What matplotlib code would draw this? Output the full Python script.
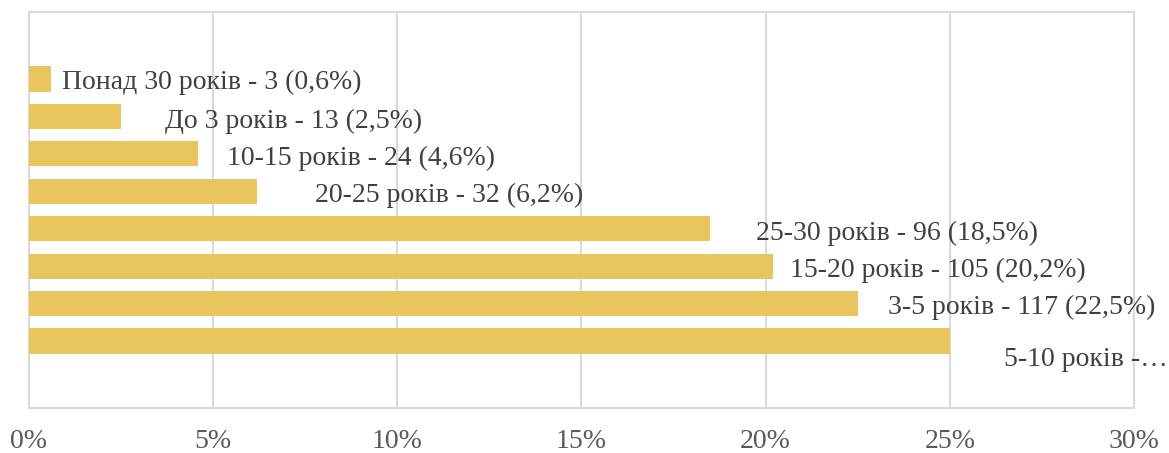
import matplotlib
matplotlib.use('Agg')
import matplotlib.pyplot as plt
from matplotlib.ticker import FuncFormatter

# data, bottom bar first
categories = ['5-10 років', '3-5 років', '15-20 років', '25-30 років',
              '20-25 років', '10-15 років', 'До 3 років', 'Понад 30 років']
counts = [130, 117, 105, 96, 32, 24, 13, 3]
percents = [25.0, 22.5, 20.2, 18.5, 6.2, 4.6, 2.5, 0.6]
labels = ['5-10 років -…', '3-5 років - 117 (22,5%)', '15-20 років - 105 (20,2%)',
          '25-30 років - 96 (18,5%)', '20-25 років - 32 (6,2%)',
          '10-15 років - 24 (4,6%)', 'До 3 років - 13 (2,5%)',
          'Понад 30 років - 3 (0,6%)']

# hand-placed label offsets (pixels), as in the original Excel chart
label_dx = [54, 30, 17, 46, 58, 29, 44, 11]
label_dy = [-18, -4, -4, -5, -4, -5, -5, -3]

plt.rcParams['font.family'] = ['Liberation Serif', 'DejaVu Serif']

fig = plt.figure(figsize=(11.69, 4.53), dpi=100)
ax = fig.add_axes([0.0248, 0.0993, 0.9452, 0.8742])

ypos = list(range(len(categories)))
ax.barh(ypos, percents, height=0.67, color='#E9C55E', zorder=3)

for y, p, lab, dx, dy in zip(ypos, percents, labels, label_dx, label_dy):
    ax.annotate(lab, xy=(p, y), xytext=(dx, dy), textcoords='offset pixels',
                ha='left', va='center', fontsize=20, color='#404040',
                annotation_clip=False, zorder=4)

ax.set_xlim(0, 30)
ax.set_ylim(-1.79, 8.79)
ax.set_xticks(range(0, 31, 5))
ax.xaxis.set_major_formatter(FuncFormatter(lambda v, _: f'{v:.0f}%'))
ax.set_yticks([])
ax.grid(axis='x', color='#D9D9D9', linewidth=1.5, zorder=0)
ax.tick_params(axis='x', length=0, pad=15, labelsize=20, labelcolor='#595959')
for s in ax.spines.values():
    s.set_color('#D9D9D9')
    s.set_linewidth(1.5)

fig.savefig('out.png', dpi=100)
